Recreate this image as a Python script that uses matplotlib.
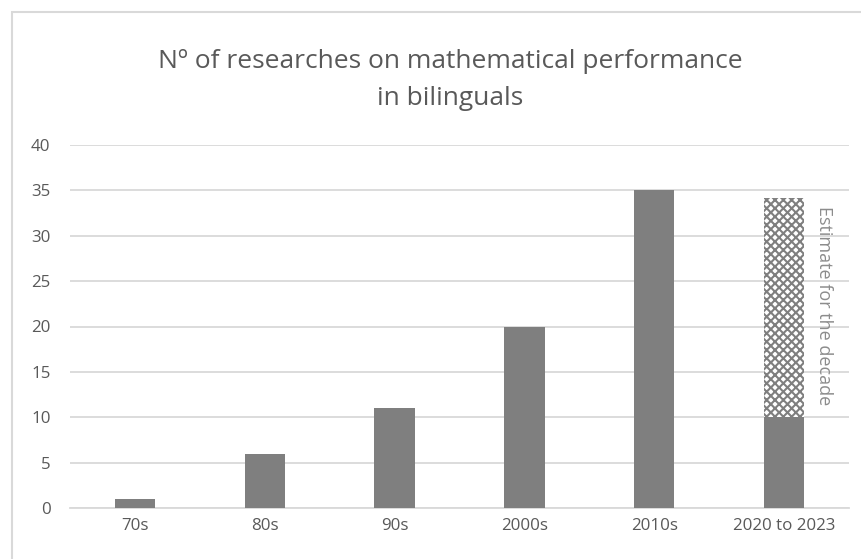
import matplotlib
matplotlib.use("Agg")
import matplotlib.pyplot as plt
from matplotlib.patches import Rectangle

# Data
decades = ["70s", "80s", "90s", "2000s", "2010s", "2020 to 2023"]
counts = [1, 6, 11, 20, 35, 10]
decade_estimate = 34.2          # projected total for the 2020s decade
y_ticks = [0, 5, 10, 15, 20, 25, 30, 35, 40]

plt.rcParams["font.family"] = ["Open Sans", "DejaVu Sans"]
plt.rcParams["hatch.linewidth"] = 1.5
text_col = "#595959"
bar_col = "#7f7f7f"
grid_col = "#d9d9d9"

fig = plt.figure(figsize=(8.62, 5.59), dpi=100)
fig.patch.set_facecolor("white")

# chart frame
fig.patches.append(Rectangle((12.5 / 862, -0.05), 1.1, 1 - 11.5 / 559 + 0.05,
                             transform=fig.transFigure, fill=False,
                             edgecolor=grid_col, linewidth=1.5))

ax = fig.add_axes([70 / 862, 1 - 508 / 559, (849 - 70) / 862, (508 - 145) / 559])
x = list(range(len(decades)))
width = 0.31

ax.bar(x, counts, width=width, color=bar_col, zorder=3)

# projected remainder of the current decade
last = len(decades) - 1
ax.bar([last], [decade_estimate - counts[last]], bottom=[counts[last]],
       width=width, facecolor="white", edgecolor=bar_col, hatch="xxxx",
       linewidth=0, zorder=3)
ax.text(last + 0.31, decade_estimate - 0.9, "Estimate for the decade",
        rotation=-90, ha="center", va="top", color="#8c8c8c", fontsize=13)

ax.set_xlim(-0.5, len(decades) - 0.5)
ax.set_ylim(0, 40)
ax.set_yticks(y_ticks)
ax.set_xticks(x)
ax.set_xticklabels(decades)
ax.yaxis.grid(True, color=grid_col, linewidth=1.3, zorder=0)
ax.set_axisbelow(True)
for s in ["top", "right", "left"]:
    ax.spines[s].set_visible(False)
ax.spines["bottom"].set_color(grid_col)
ax.spines["bottom"].set_linewidth(1.3)
ax.tick_params(axis="both", length=0, labelsize=12.2, colors=text_col)
ax.tick_params(axis="y", pad=14)
ax.tick_params(axis="x", pad=7)

fig.text(450 / 862, 1 - 80 / 559,
         "Nº of researches on mathematical performance\nin bilinguals",
         ha="center", va="center", fontsize=19, color=text_col,
         linespacing=1.65)

fig.savefig("out.png", dpi=100)
